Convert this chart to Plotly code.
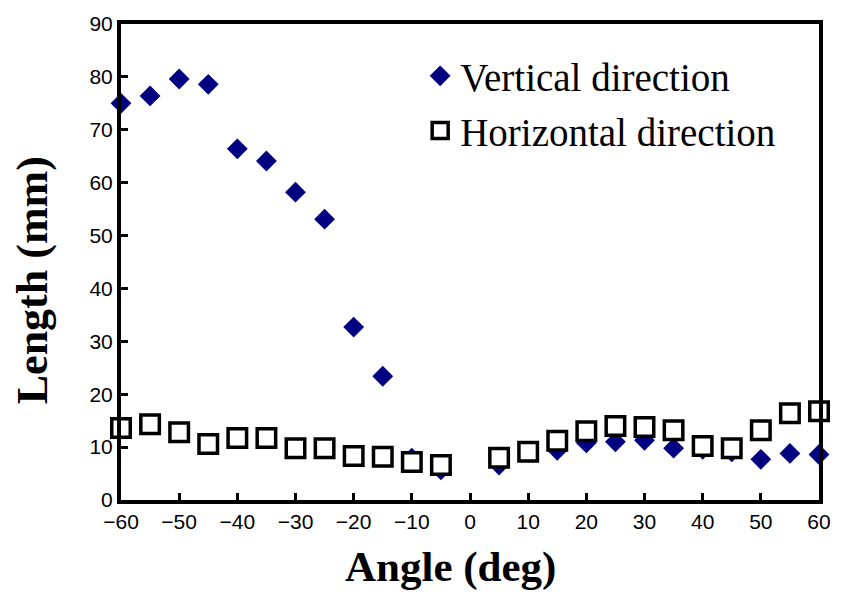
import plotly.graph_objects as go

# Measured lengths versus viewing angle
angle_vertical = [-60, -55, -50, -45, -40, -35, -30, -25, -20, -15, -10, -5,
                  5, 10, 15, 20, 25, 30, 35, 40, 45, 50, 55, 60]
length_vertical = [75.0, 76.4, 79.6, 78.6, 66.4, 64.1, 58.2, 53.1, 32.7, 23.4, 7.9, 5.7,
                   6.6, 9.0, 9.4, 10.8, 11.0, 11.3, 9.8, 9.6, 9.1, 7.7, 8.8, 8.6]

angle_horizontal = [-60, -55, -50, -45, -40, -35, -30, -25, -20, -15, -10, -5,
                    5, 10, 15, 20, 25, 30, 35, 40, 45, 50, 55, 60]
length_horizontal = [13.6, 14.3, 12.8, 10.6, 11.7, 11.7, 9.8, 9.8, 8.3, 8.2, 7.2, 6.6,
                     8.0, 9.1, 11.2, 13.0, 14.0, 13.8, 13.2, 10.2, 9.8, 13.2, 16.4, 16.8]

x_ticks = [-60, -50, -40, -30, -20, -10, 0, 10, 20, 30, 40, 50, 60]
x_tick_text = ["\u221260", "\u221250", "\u221240", "\u221230", "\u221220", "\u221210",
               "0", "10", "20", "30", "40", "50", "60"]
y_ticks = [0, 10, 20, 30, 40, 50, 60, 70, 80, 90]

x_title = "Angle (deg)"
y_title = "Length (mm)"

serif = "Times New Roman, Liberation Serif, serif"
sans = "Arial, Liberation Sans, sans-serif"

fig = go.Figure()
fig.add_trace(go.Scatter(
    x=angle_vertical, y=length_vertical, mode="markers",
    name="Vertical direction", legendgroup="v",
    marker=dict(symbol="diamond", size=16, color="#000080",
                line=dict(width=0)),
    cliponaxis=False,
))
fig.add_trace(go.Scatter(
    x=angle_horizontal, y=length_horizontal, mode="markers",
    name="Horizontal direction", legendgroup="h",
    marker=dict(symbol="square", size=18.5, color="white",
                line=dict(width=3.5, color="black")),
    cliponaxis=False,
))

fig.update_layout(
    width=843, height=598,
    margin=dict(l=121, r=15, t=24, b=98),
    paper_bgcolor="white", plot_bgcolor="white",
    showlegend=True,
    legend=dict(
        x=0.4286, y=0.958, xanchor="left", yanchor="top",
        font=dict(family=serif, size=39, color="black"),
        bgcolor="rgba(0,0,0,0)", tracegroupgap=1,
        itemsizing="trace",
    ),
    xaxis=dict(
        range=[-60, 60], tickvals=x_ticks, ticktext=x_tick_text,
        ticks="inside", ticklen=7, tickwidth=3, tickcolor="black",
        showline=True, linewidth=4, linecolor="black", mirror=True,
        showgrid=False, zeroline=False,
        tickfont=dict(family=sans, size=21, color="black"),
    ),
    yaxis=dict(
        range=[0, 90], tickvals=y_ticks,
        ticks="inside", ticklen=7, tickwidth=3, tickcolor="black",
        showline=True, linewidth=4, linecolor="black", mirror=True,
        showgrid=False, zeroline=False,
        tickfont=dict(family=sans, size=21, color="black"),
    ),
    annotations=[
        dict(text="<b>%s</b>" % x_title, xref="paper", yref="paper",
             x=0.4724, y=-0.196, xanchor="center", yanchor="bottom",
             showarrow=False, font=dict(family=serif, size=43, color="black")),
        dict(text="<b>%s</b>" % y_title, xref="paper", yref="paper",
             x=-0.1273, y=0.462, xanchor="center", yanchor="middle", textangle=-90,
             showarrow=False, font=dict(family=serif, size=44, color="black")),
    ],
)

fig.write_html("out.html")
